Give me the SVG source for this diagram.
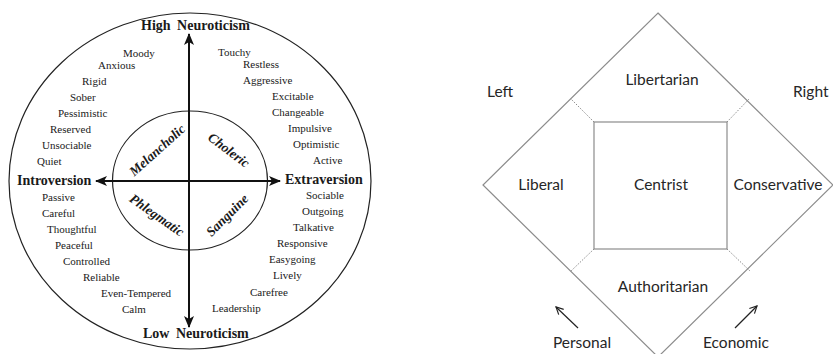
<svg xmlns="http://www.w3.org/2000/svg" width="833" height="354" viewBox="0 0 833 354">
  <style>
    .serif { font-family: "Liberation Serif", "Times New Roman", serif; fill: #1a1a1a; }
    .word { font-size: 11px; }
    .axis { font-size: 14px; font-weight: bold; }
    .temper { font-size: 13.5px; font-weight: bold; font-style: italic; text-anchor: middle; }
    .ring { fill: none; stroke: #222; stroke-width: 1.2; }
    .arrow { stroke: #111; stroke-width: 2; fill: none; }
    .sans { font-family: Lato, "Open Sans", "Liberation Sans", sans-serif; fill: #262626; font-size: 15.5px; }
    .frame { fill: none; stroke: #8c8c8c; stroke-width: 1.2; }
    .dots { stroke: #8c8c8c; stroke-width: 1; stroke-dasharray: 1.5 1.5; }
    .thin { stroke: #222; stroke-width: 1.2; fill: none; }
  </style>
  <defs>
    <marker id="solidHead" viewBox="0 0 12 10" refX="11" refY="5" markerWidth="12" markerHeight="10" markerUnits="userSpaceOnUse" orient="auto">
      <path d="M0,0 L12,5 L0,10 L3,5 Z" fill="#111"/>
    </marker>
    <marker id="openHead" viewBox="0 0 10 10" refX="9" refY="5" markerWidth="9" markerHeight="9" markerUnits="userSpaceOnUse" orient="auto">
      <path d="M1,1 L9,5 L1,9" fill="none" stroke="#222" stroke-width="1.3"/>
    </marker>
  </defs>

  <rect width="833" height="354" fill="#ffffff"/>

  <!-- Eysenck temperament wheel -->
  <g id="wheel-outer">
    <ellipse class="ring" cx="190" cy="181" rx="181" ry="168"/>
  </g>
  <g id="wheel-inner">
    <ellipse class="ring" cx="190" cy="180.5" rx="77.5" ry="69.5"/>
  </g>

  <g id="wheel-axes">
    <line class="arrow" x1="189" y1="181" x2="189" y2="34" marker-end="url(#solidHead)"/>
    <line class="arrow" x1="189" y1="181" x2="189" y2="327" marker-end="url(#solidHead)"/>
    <line class="arrow" x1="189" y1="181" x2="96" y2="181" marker-end="url(#solidHead)"/>
    <line class="arrow" x1="189" y1="181" x2="280" y2="181" marker-end="url(#solidHead)"/>
  </g>

  <g id="axis-labels" class="serif axis">
    <text x="141" y="30" word-spacing="3">High Neuroticism</text>
    <text x="143" y="338" word-spacing="3">Low Neuroticism</text>
    <text x="17" y="185">Introversion</text>
    <text x="285" y="184">Extraversion</text>
  </g>

  <g id="temperaments" class="serif temper">
    <text transform="translate(157,150) rotate(-42)" dy="0.35em">Melancholic</text>
    <text transform="translate(229,150) rotate(37)" dy="0.35em">Choleric</text>
    <text transform="translate(157,215) rotate(35)" dy="0.35em">Phlegmatic</text>
    <text transform="translate(227,215) rotate(-45)" dy="0.35em">Sanguine</text>
  </g>

  <g id="traits-melancholic" class="serif word">
    <text x="123" y="57">Moody</text>
    <text x="98" y="69">Anxious</text>
    <text x="82" y="85">Rigid</text>
    <text x="70" y="101">Sober</text>
    <text x="58" y="117">Pessimistic</text>
    <text x="50" y="133">Reserved</text>
    <text x="42" y="149">Unsociable</text>
    <text x="37" y="165">Quiet</text>
  </g>
  <g id="traits-choleric" class="serif word">
    <text x="218" y="56">Touchy</text>
    <text x="243" y="68">Restless</text>
    <text x="243" y="84">Aggressive</text>
    <text x="272" y="100">Excitable</text>
    <text x="272" y="116">Changeable</text>
    <text x="288" y="132">Impulsive</text>
    <text x="293" y="148">Optimistic</text>
    <text x="313" y="164">Active</text>
  </g>
  <g id="traits-phlegmatic" class="serif word">
    <text x="42" y="201">Passive</text>
    <text x="42" y="217">Careful</text>
    <text x="47" y="233">Thoughtful</text>
    <text x="55" y="249">Peaceful</text>
    <text x="63" y="265">Controlled</text>
    <text x="83" y="281">Reliable</text>
    <text x="101" y="297">Even-Tempered</text>
    <text x="122" y="313">Calm</text>
  </g>
  <g id="traits-sanguine" class="serif word">
    <text x="306" y="199">Sociable</text>
    <text x="302" y="215">Outgoing</text>
    <text x="293" y="231">Talkative</text>
    <text x="277" y="247">Responsive</text>
    <text x="269" y="263">Easygoing</text>
    <text x="273" y="279">Lively</text>
    <text x="250" y="296">Carefree</text>
    <text x="212" y="312">Leadership</text>
  </g>

  <!-- Nolan-style political diamond -->
  <g id="diamond">
    <polygon class="frame" points="658,13 833,185 658,357 483,185"/>
  </g>
  <g id="centrist">
    <rect class="frame" x="594" y="122" width="133" height="127"/>
    <text class="sans" x="661" y="190" text-anchor="middle">Centrist</text>
  </g>
  <g id="dividers">
    <line class="dots" x1="594" y1="122" x2="571" y2="99"/>
    <line class="dots" x1="727" y1="122" x2="749" y2="99"/>
    <line class="dots" x1="594" y1="249" x2="571" y2="271"/>
    <line class="dots" x1="727" y1="249" x2="750" y2="271"/>
  </g>
  <g id="libertarian"><text class="sans" x="662" y="85" text-anchor="middle">Libertarian</text></g>
  <g id="liberal"><text class="sans" x="541" y="190" text-anchor="middle">Liberal</text></g>
  <g id="conservative"><text class="sans" x="778" y="190" text-anchor="middle">Conservative</text></g>
  <g id="authoritarian"><text class="sans" x="663" y="292" text-anchor="middle">Authoritarian</text></g>
  <g id="side-labels" class="sans">
    <text x="487" y="97">Left</text>
    <text x="793" y="97">Right</text>
    <text x="582" y="348" text-anchor="middle">Personal</text>
    <text x="736" y="348" text-anchor="middle">Economic</text>
  </g>
  <g id="direction-arrows">
    <line class="thin" x1="578" y1="328" x2="556" y2="307" marker-end="url(#openHead)"/>
    <line class="thin" x1="735" y1="328" x2="757" y2="306" marker-end="url(#openHead)"/>
  </g>
</svg>
